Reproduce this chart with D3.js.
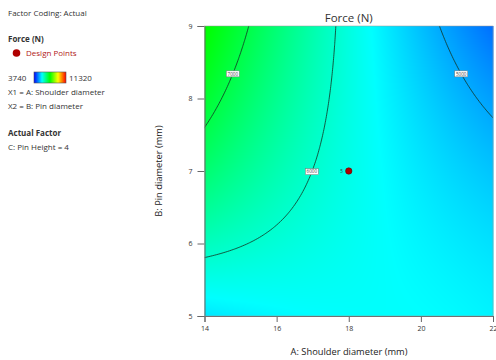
<!DOCTYPE html>
<html><head><meta charset="utf-8">
<script src="https://cdn.jsdelivr.net/npm/d3@7"></script>
<style>
html,body{margin:0;padding:0;background:#fff;}
svg{display:block;font-family:"Open Sans","Noto Sans",sans-serif;}
</style></head><body>
<svg id="chart" width="496" height="360"></svg>
<script>
// Axis ticks (actual units)
const shoulderTicks = [14, 16, 18, 20, 22];
const pinTicks = [5, 6, 7, 8, 9];

// Response model for Force (N) in coded units: a = (A-18)/4, b = (B-7)/2
const termPowA = [0, 1, 0, 1, 2, 0, 1, 2, 2];
const termPowB = [0, 0, 1, 1, 0, 2, 2, 1, 2];
const termCoef = [5800, -750, 107, -775, 150, -43, 25, 175, -125];

// Colour ramp for the response range
const forceRange = [3740, 11320];
const rampColors = ["#0000ff", "#00ffff", "#00ff00", "#ffff00", "#ff0000"];

// Contour levels and where each label sits (pin diameter, mm)
const contourLevels = [5000, 6000, 7000];
const contourLabelPin = [8.34, 6.99, 8.34];

// Design points
const designShoulder = [18];
const designPin = [7];
const designReps = ["5"];

const svg = d3.select("#chart");
const plot = {left: 204.5, right: 493, top: 26, bottom: 316};

const x = d3.scaleLinear().domain([14, 22]).range([plot.left, plot.right]);
const y = d3.scaleLinear().domain([5, 9]).range([plot.bottom, plot.top]);

function force(A, B) {
  const a = (A - 18) / 4, b = (B - 7) / 2;
  let s = 0;
  for (let i = 0; i < termCoef.length; i++) s += termCoef[i] * Math.pow(a, termPowA[i]) * Math.pow(b, termPowB[i]);
  return s;
}

const color = d3.scaleLinear()
  .domain(d3.range(rampColors.length).map(i => forceRange[0] + i * (forceRange[1] - forceRange[0]) / (rampColors.length - 1)))
  .range(rampColors).clamp(true);

// ---- colour field, rendered per pixel
const pw = Math.round(plot.right - plot.left), ph = Math.round(plot.bottom - plot.top);
const canvas = document.createElement("canvas");
canvas.width = pw; canvas.height = ph;
const ctx = canvas.getContext("2d");
const img = ctx.createImageData(pw, ph);
for (let j = 0; j < ph; j++) {
  const B = y.invert(plot.top + j + 0.5);
  for (let i = 0; i < pw; i++) {
    const A = x.invert(plot.left + i + 0.5);
    const c = d3.rgb(color(force(A, B)));
    const k = (j * pw + i) * 4;
    img.data[k] = c.r; img.data[k + 1] = c.g; img.data[k + 2] = c.b; img.data[k + 3] = 255;
  }
}
ctx.putImageData(img, 0, 0);
svg.append("image")
  .attr("x", plot.left).attr("y", plot.top)
  .attr("width", pw).attr("height", ph)
  .attr("preserveAspectRatio", "none")
  .attr("href", canvas.toDataURL());

// ---- contour lines on an extended grid, clipped to the plot
const n = 170, m = 150;
const gx0 = 13.6, gx1 = 22.4, gy0 = 4.8, gy1 = 9.2;
const dx = (gx1 - gx0) / (n - 1), dy = (gy1 - gy0) / (m - 1);
const values = new Array(n * m);
for (let j = 0; j < m; j++) for (let i = 0; i < n; i++) values[j * n + i] = force(gx0 + i * dx, gy0 + j * dy);
const contours = d3.contours().size([n, m]).thresholds(contourLevels)(values);
const proj = d3.geoTransform({
  point(px, py) { this.stream.point(x(gx0 + (px - 0.5) * dx), y(gy0 + (py - 0.5) * dy)); }
});
svg.append("clipPath").attr("id", "plotClip").append("rect")
  .attr("x", plot.left).attr("y", plot.top)
  .attr("width", plot.right - plot.left).attr("height", plot.bottom - plot.top);
svg.append("g").attr("clip-path", "url(#plotClip)")
  .selectAll("path").data(contours).join("path")
  .attr("d", d3.geoPath(proj))
  .attr("fill", "none").attr("stroke", "#143322").attr("stroke-width", 0.8);

// ---- contour labels
contourLevels.forEach((lv, k) => {
  const B = contourLabelPin[k];
  const grid = d3.range(14, 22.0001, 0.005);
  let A = grid[0];
  for (let i = 1; i < grid.length; i++) {
    const f0 = force(grid[i - 1], B) - lv, f1 = force(grid[i], B) - lv;
    if (f0 === 0 || f0 * f1 < 0) { A = grid[i - 1] + (grid[i] - grid[i - 1]) * f0 / (f0 - f1); break; }
  }
  const g = svg.append("g").attr("transform", `translate(${x(A)},${y(B)})`);
  g.append("rect").attr("x", -6.5).attr("y", -3).attr("width", 13).attr("height", 6)
    .attr("fill", "#fff").attr("stroke", "#777").attr("stroke-width", 0.5);
  g.append("text").attr("text-anchor", "middle").attr("dy", "1.7")
    .attr("font-size", 4.6).attr("fill", "#444").text(lv);
});

// ---- axes
const xAxis = svg.append("g").attr("transform", `translate(0,${plot.bottom})`)
  .call(d3.axisBottom(x).tickValues(shoulderTicks).tickSize(6).tickPadding(4).tickFormat(d3.format("d")));
const yAxis = svg.append("g").attr("transform", `translate(${plot.left},0)`)
  .call(d3.axisLeft(y).tickValues(pinTicks).tickSize(7).tickPadding(5).tickFormat(d3.format("d")));
[xAxis, yAxis].forEach(ax => {
  ax.select(".domain").attr("stroke", "#666").attr("stroke-width", 1);
  ax.selectAll(".tick line").attr("stroke", "#666");
  ax.selectAll(".tick text").attr("font-size", 7).attr("fill", "#333").attr("font-family", "'Open Sans','Noto Sans',sans-serif");
});
svg.append("rect").attr("x", plot.left).attr("y", plot.top)
  .attr("width", plot.right - plot.left).attr("height", plot.bottom - plot.top)
  .attr("fill", "none").attr("stroke", "#999").attr("stroke-width", 0.5);

// ---- design points
designShoulder.forEach((A, i) => {
  svg.append("circle").attr("cx", x(A)).attr("cy", y(designPin[i])).attr("r", 3.2)
    .attr("fill", "#b00000").attr("stroke", "#600").attr("stroke-width", 0.6);
  svg.append("text").attr("x", x(A) - 6).attr("y", y(designPin[i]) + 1.5)
    .attr("text-anchor", "end").attr("font-size", 4.5).attr("fill", "#333").text(designReps[i]);
});

// ---- titles
svg.append("text").attr("x", (plot.left + plot.right) / 2).attr("y", 22)
  .attr("text-anchor", "middle").attr("font-size", 11.5).attr("fill", "#333").text("Force (N)");
svg.append("text").attr("x", 349).attr("y", 355)
  .attr("text-anchor", "middle").attr("font-size", 9.3).attr("fill", "#222").text("A: Shoulder diameter (mm)");
svg.append("text").attr("transform", "translate(162,171) rotate(-90)")
  .attr("text-anchor", "middle").attr("font-size", 9.3).attr("fill", "#222").text("B: Pin diameter (mm)");

// ---- side legend
const leg = svg.append("g").attr("font-size", 8).attr("fill", "#333");
leg.append("text").attr("x", 8).attr("y", 16).text("Factor Coding: Actual");
leg.append("text").attr("x", 8).attr("y", 42).attr("font-weight", "bold").text("Force (N)");
leg.append("circle").attr("cx", 16.5).attr("cy", 53).attr("r", 3.8).attr("fill", "#b00000");
leg.append("text").attr("x", 26).attr("y", 56).attr("fill", "#b02020").text("Design Points");
leg.append("text").attr("x", 8).attr("y", 81).text(forceRange[0]);
const grad = svg.append("defs").append("linearGradient").attr("id", "ramp");
rampColors.forEach((c, i) => grad.append("stop").attr("offset", i / (rampColors.length - 1)).attr("stop-color", c));
leg.append("rect").attr("x", 34).attr("y", 72).attr("width", 32).attr("height", 11)
  .attr("fill", "url(#ramp)").attr("stroke", "#555").attr("stroke-width", 0.6);
leg.append("text").attr("x", 69).attr("y", 81).text(forceRange[1]);
leg.append("text").attr("x", 8).attr("y", 95).text("X1 = A: Shoulder diameter");
leg.append("text").attr("x", 8).attr("y", 109).text("X2 = B: Pin diameter");
leg.append("text").attr("x", 8).attr("y", 136).attr("font-weight", "bold").text("Actual Factor");
leg.append("text").attr("x", 8).attr("y", 150).text("C: Pin Height = 4");
</script>
</body></html>
